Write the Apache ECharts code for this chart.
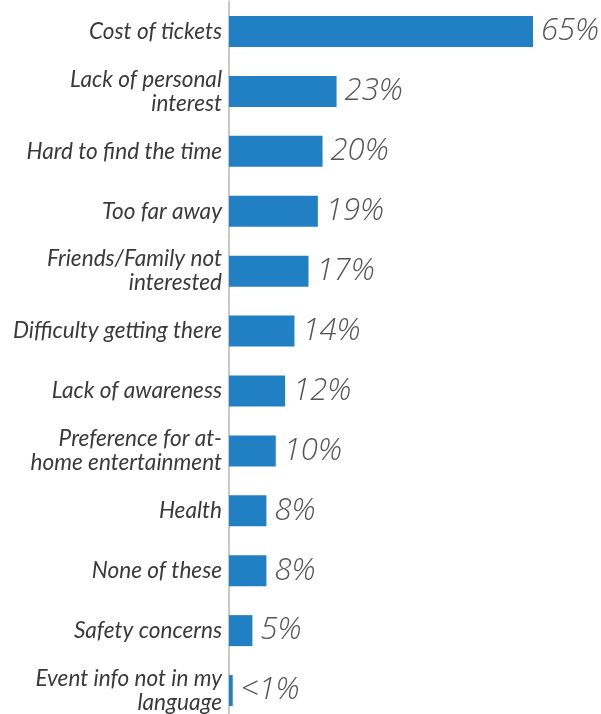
<!DOCTYPE html>
<html>
<head>
<meta charset="utf-8">
<script src="https://cdn.jsdelivr.net/npm/echarts@6/dist/echarts.min.js"></script>
<style>html,body{margin:0;padding:0;background:#fff}#c{width:601px;height:714px}</style>
</head>
<body>
<div id="c"></div>
<script>
var categories = ["Cost of tickets","Lack of personal\ninterest","Hard to find the time","Too far away","Friends/Family not\ninterested","Difficulty getting there","Lack of awareness","Preference for at-\nhome entertainment","Health","None of these","Safety concerns","Event info not in my\nlanguage"];
var values = [65,23,20,19,17,14,12,10,8,8,5,0.8];
var valueLabels = ["65%","23%","20%","19%","17%","14%","12%","10%","8%","8%","5%","<1%"];

var chart = echarts.init(document.getElementById('c'), null, {renderer:'canvas'});
chart.setOption({
  animation:false,
  grid:{left:229, right:68, top:1.5, height:719, containLabel:false, outerBoundsMode:'none'},
  xAxis:{type:'value', min:0, max:65, show:false},
  yAxis:{type:'category', data:categories, inverse:true,
    axisLine:{show:true, lineStyle:{color:'#c8c8c8', width:2}},
    axisTick:{show:false},
    axisLabel:{margin:7, color:'#3a3a3a', fontFamily:'Lato', fontStyle:'italic', fontSize:22.6, lineHeight:24, align:'right'}
  },
  series:[{type:'bar', data:values, barWidth:31, itemStyle:{color:'#2180c4'},
    label:{show:true, position:'right', distance:8, color:'#555', fontFamily:'Open Sans', fontStyle:'italic', fontWeight:300, fontSize:31,
      formatter:function(p){return valueLabels[p.dataIndex];}}
  }]
});
</script>
</body>
</html>
